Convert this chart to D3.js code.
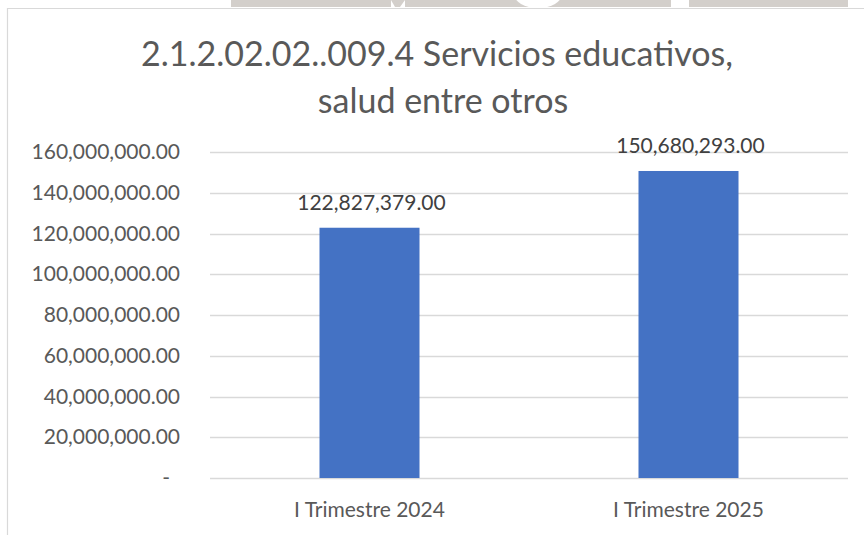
<!DOCTYPE html>
<html>
<head>
<meta charset="utf-8">
<script src="https://cdn.jsdelivr.net/npm/d3@7"></script>
<style>
  html, body { margin: 0; padding: 0; background: #fff; }
  svg { display: block; }
  text { font-family: "Lato", "Noto Sans", sans-serif; }
</style>
</head>
<body>
<svg id="chart" width="864" height="535"></svg>
<script>
// ---- data ----
const categories = ["I Trimestre 2024", "I Trimestre 2025"];
const values = [122827379.00, 150680293.00];
const yTicks = [0, 20000000, 40000000, 60000000, 80000000, 100000000, 120000000, 140000000, 160000000];
const titleLines = ["2.1.2.02.02..009.4 Servicios educativos,", "salud entre otros"];

const svg = d3.select("#chart");
const W = 864, H = 535;
const plot = { left: 210, right: 848, top: 152, bottom: 478 };

// background watermark band at top (partial image behind the chart)
const band = svg.append("g");
band.append("rect").attr("x", 231).attr("y", 0).attr("width", 160).attr("height", 7).attr("fill", "#d3cfcb");
band.append("rect").attr("x", 405).attr("y", 0).attr("width", 266).attr("height", 7).attr("fill", "#d3cfcb");
band.append("path").attr("d", "M391,0 L405,0 L400,7 L395,7 Z").attr("fill", "#d3cfcb");
band.append("ellipse").attr("cx", 538).attr("cy", -6).attr("rx", 24).attr("ry", 14).attr("fill", "#ffffff");
band.append("rect").attr("x", 689).attr("y", 0).attr("width", 159).attr("height", 7).attr("fill", "#d3cfcb");

// chart frame
svg.append("line").attr("x1", 7).attr("x2", W).attr("y1", 8.5).attr("y2", 8.5).attr("stroke", "#d9d9d9").attr("stroke-width", 1.2);
svg.append("line").attr("x1", 7.5).attr("x2", 7.5).attr("y1", 8).attr("y2", H).attr("stroke", "#d9d9d9").attr("stroke-width", 1.2);

// scales
const x = d3.scaleBand().domain(categories).range([plot.left, plot.right])
  .paddingInner(0.6865).paddingOuter(0.6865 / 2);
const y = d3.scaleLinear().domain([0, 160000000]).range([plot.bottom, plot.top]);

const fmt = d3.format(",.2f");

// gridlines
svg.append("g").selectAll("line").data(yTicks).join("line")
  .attr("x1", plot.left).attr("x2", plot.right)
  .attr("y1", d => Math.round(y(d)) + 0.5).attr("y2", d => Math.round(y(d)) + 0.5)
  .attr("stroke", "#d9d9d9").attr("stroke-width", 1.3);

// y axis labels
const yAxis = d3.axisLeft(y).tickValues(yTicks).tickSize(0).tickPadding(0)
  .tickFormat(d => d === 0 ? "-" : fmt(d));
const gy = svg.append("g").attr("transform", "translate(180,0)").call(yAxis);
gy.select(".domain").remove();
gy.selectAll("text").attr("fill", "#595959").style("font-size", "21px")
  .style("font-family", "Lato, 'Noto Sans', sans-serif")
  .attr("dx", d => d === 0 ? -10 : 0);

// x axis labels
const xAxis = d3.axisBottom(x).tickSize(0).tickPadding(0);
const gx = svg.append("g").attr("transform", `translate(0,${plot.bottom})`).call(xAxis);
gx.select(".domain").remove();
gx.selectAll("text").attr("fill", "#595959").style("font-size", "21px")
  .style("font-family", "Lato, 'Noto Sans', sans-serif")
  .attr("dy", null).attr("y", 39);

// bars
svg.append("g").selectAll("rect").data(values).join("rect")
  .attr("x", (d, i) => x(categories[i]))
  .attr("width", x.bandwidth())
  .attr("y", d => y(d))
  .attr("height", d => y(0) - y(d))
  .attr("fill", "#4472c4");

// data labels
svg.append("g").selectAll("text").data(values).join("text")
  .attr("x", (d, i) => x(categories[i]) + x.bandwidth() / 2 + 2)
  .attr("y", d => y(d) - 18)
  .attr("text-anchor", "middle")
  .attr("fill", "#404040")
  .style("font-size", "21px")
  .text(d => fmt(d));

// title
const titleX = [437, 443];
svg.append("g").selectAll("text").data(titleLines).join("text")
  .attr("x", (d, i) => titleX[i])
  .attr("y", (d, i) => 66 + i * 47)
  .attr("text-anchor", "middle")
  .attr("fill", "#595959")
  .style("font-size", "34px")
  .text(d => d);
</script>
</body>
</html>
